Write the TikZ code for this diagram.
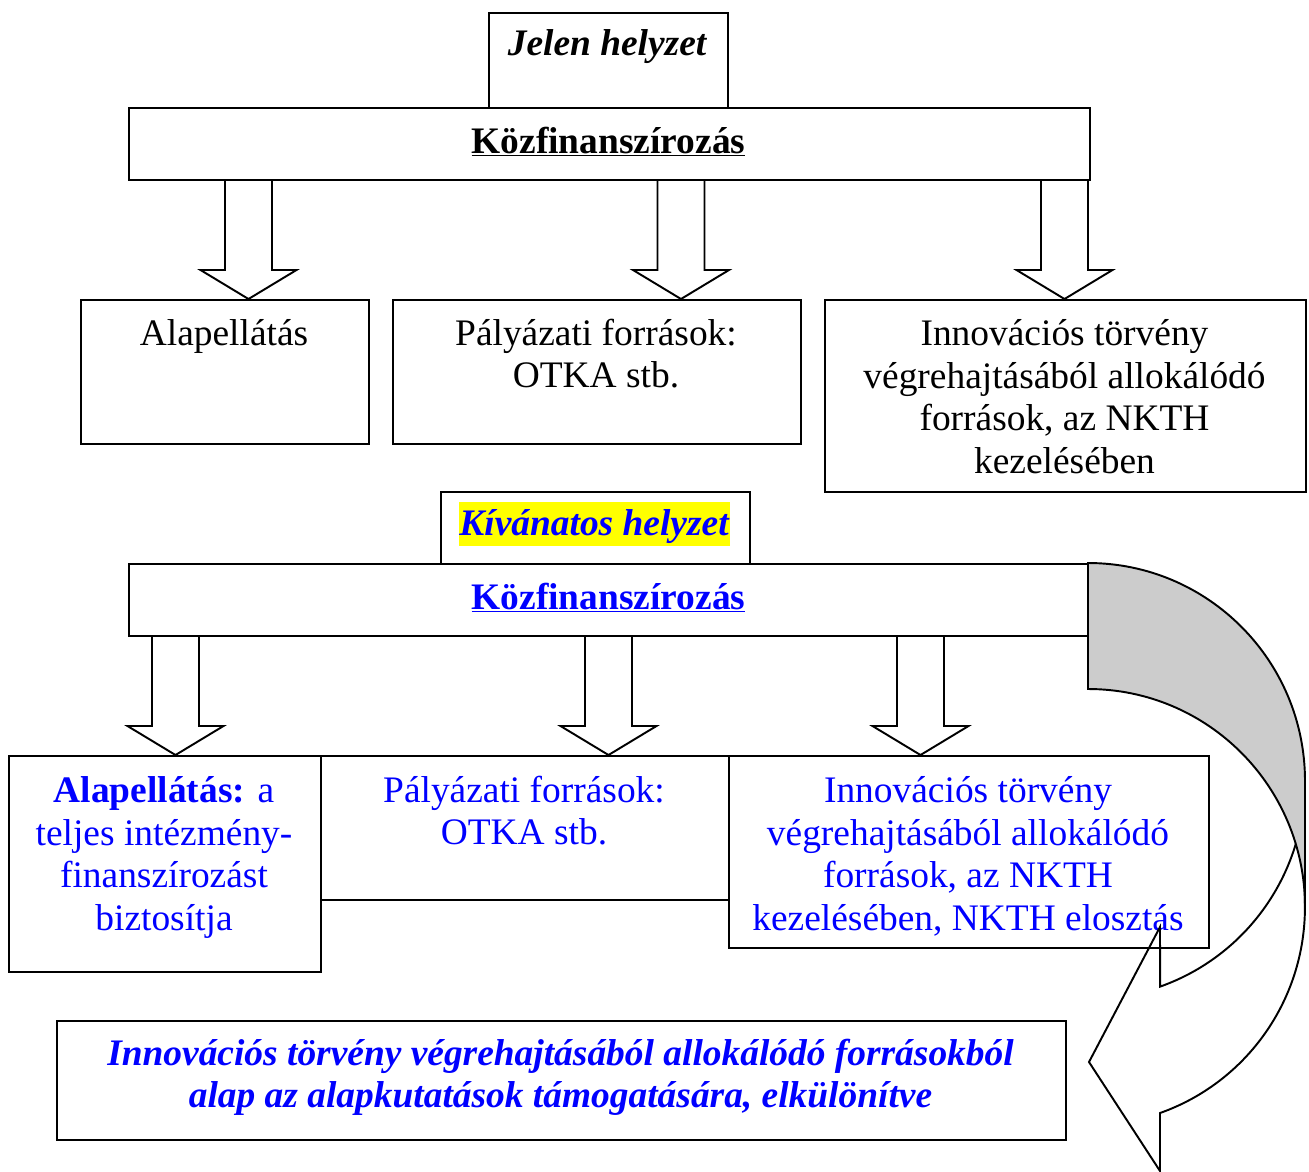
\documentclass[tikz,border=0pt]{standalone}
\usepackage{fontspec}
\setmainfont{Liberation Serif}
\newcommand\fsz{\fontsize{21.3}{24.2}\selectfont}
\definecolor{hlblue}{RGB}{0,0,255}
\definecolor{hlyellow}{RGB}{255,255,0}
\definecolor{backgray}{RGB}{204,204,204}
\newcommand\pbox[5]{\node[box, minimum width=#4*0.02cm, minimum height=#5*0.02cm] (#1) at (#2,#3) {};}
\newcommand\fatarr[3]{\draw[blk] (#1-23.5,#2) -- (#1-23.5,#3-29) -- (#1-48,#3-29) -- (#1,#3) -- (#1+48,#3-29) -- (#1+23.5,#3-29) -- (#1+23.5,#2);}
\begin{document}
\begin{tikzpicture}[x=0.02cm,y=-0.02cm,
  lw/.style={line width=1.1pt},
  box/.style={draw, lw, inner sep=0pt, anchor=north west},
  txt/.style={font=\fsz, align=center, anchor=base, inner sep=0pt},
  blk/.style={draw, lw, line join=miter},
  bluetxt/.style={txt, text=hlblue},
]
\useasboundingbox (0,0) rectangle (1309,1171);

% ---- upper part: Jelen helyzet
\pbox{jelen}{488}{12}{239}{95}
\pbox{kf1}{128}{107}{961}{72}
\pbox{b1a}{80}{299}{288}{144}
\pbox{b1b}{392}{299}{408}{144}
\pbox{b1c}{824}{299}{481}{192}

\fatarr{248.5}{179}{299}
\fatarr{681}{179}{299}
\fatarr{1064.5}{179}{299}

% anchor=base of a multi-line node is the baseline of its last line
\node[txt] (tjelen) at (607.5,55) {\textbf{\textit{Jelen helyzet}}};
\node[txt] (tkf1) at (608.5,153) {\underline{\textbf{Közfinanszírozás}}};
\node[txt] (t1a) at (224,345) {Alapellátás};
\node[txt] (t1b) at (596,387.7) {Pályázati források:\\OTKA stb.};
\node[txt] (t1c) at (1064.5,473.1) {Innovációs törvény\\végrehajtásából allokálódó\\források, az NKTH\\kezelésében};

% ---- lower part: Kívánatos helyzet
\pbox{kiv}{440}{491}{309}{72}
\pbox{kf2}{128}{563}{960}{72}
\pbox{b2a}{8}{755}{312}{216}
\pbox{b2b}{320}{755}{408}{144}
\pbox{b2c}{728}{755}{480}{192}
\pbox{bot}{56}{1020}{1009}{119}

\fatarr{175.5}{635}{755}
\fatarr{608.5}{635}{755}
\fatarr{920.5}{635}{755}

\node[bluetxt, fill=hlyellow, text height=18.7pt, text depth=6.2pt] (tkiv) at (594.5,535) {\textbf{\textit{Kívánatos helyzet}}};
\node[bluetxt] (tkf2) at (608.5,609) {\underline{\textbf{Közfinanszírozás}}};
\node[bluetxt] (t2a) at (164,930.1) {\textbf{Alapellátás:} a\\teljes intézmény-\\finanszírozást\\biztosítja};
\node[bluetxt] (t2b) at (524,844.7) {Pályázati források:\\OTKA stb.};
\node[bluetxt] (t2c) at (968,930.1) {Innovációs törvény\\végrehajtásából allokálódó\\források, az NKTH\\kezelésében, NKTH elosztás};
\node[bluetxt, font=\fsz\bfseries\itshape] (tbot) at (560.5,1107.7) {Innovációs törvény végrehajtásából allokálódó forrásokból\\alap az alapkutatások támogatására, elkülönítve};

% ---- curved arrow (front part, unfilled)
\draw[lw, line join=miter] (1305,781) arc[start angle=0, end angle=70.6, x radius=217, y radius=218]
  -- (1160,927) -- (1089,1062) -- (1160,1171) -- (1160,1113)
  arc[start angle=70.6, end angle=0, x radius=217, y radius=218] -- cycle;
% ---- curved arrow (back part, gray)
\draw[lw, fill=backgray] (1088,563) arc[start angle=-90, end angle=0, x radius=217, y radius=218]
  -- (1305,907) arc[start angle=0, end angle=-90, x radius=217, y radius=218] -- cycle;
\end{tikzpicture}
\end{document}
